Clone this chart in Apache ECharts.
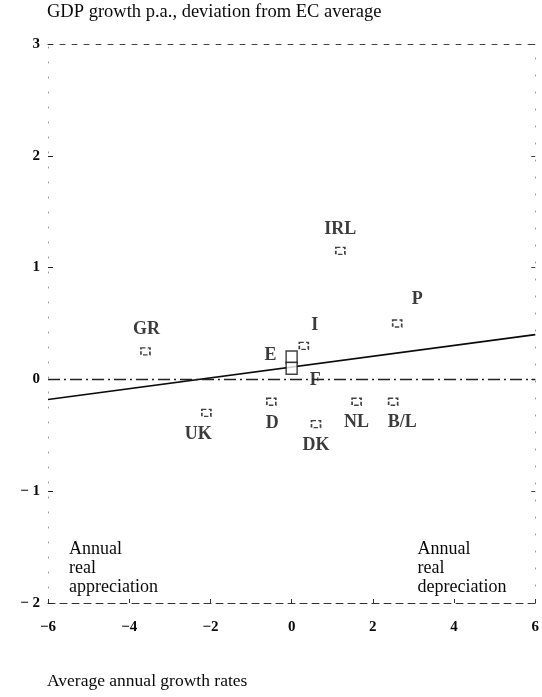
<!DOCTYPE html>
<html>
<head>
<meta charset="utf-8">
<script src="https://cdn.jsdelivr.net/npm/echarts@6/dist/echarts.min.js"></script>
<style>
  html, body { margin: 0; padding: 0; background: #fff; }
  #chart { width: 542px; height: 697px; }
</style>
</head>
<body>
<div id="chart"></div>
<script>
// Member states: real exchange rate change (x) vs GDP growth deviation from EC average (y)
const countries = ['GR', 'IRL', 'P', 'I', 'E', 'F', 'D', 'UK', 'DK', 'NL', 'B/L'];
const realRate  = [-3.6, 1.2, 2.6, 0.3, 0.0, 0.0, -0.5, -2.1, 0.6, 1.6, 2.5];
const gdpDev    = [0.25, 1.15, 0.5, 0.3, 0.2, 0.1, -0.2, -0.3, -0.4, -0.2, -0.2];

// Fitted regression line end points
const fitX = [-6, 6];
const fitY = [-0.18, 0.4];

// Axis ranges and tick steps
const xRange = [-6, 6];
const xStep = 2;
const yRange = [-2, 3];
const yStep = 1;

const titleText = 'GDP growth p.a., deviation from EC average';
const xAxisText = 'Average annual growth rates';
const leftNote = 'Annual\nreal\nappreciation';
const rightNote = 'Annual\nreal\ndepreciation';

// Label placement per country
const labelPlace = {
  'GR':  { position: 'top', distance: 9, offset: [1, 0] },
  'IRL': { position: 'top', distance: 8, offset: [0, 0] },
  'P':   { position: 'top', distance: 7, offset: [20, -4] },
  'I':   { position: 'top', distance: 7, offset: [11, 0] },
  'E':   { position: 'left', distance: 9, offset: [0, -2] },
  'F':   { position: 'right', distance: 4, offset: [4, 12] },
  'D':   { position: 'bottom', distance: 8, offset: [1, 0] },
  'UK':  { position: 'bottom', distance: 8, offset: [-8, 0] },
  'DK':  { position: 'bottom', distance: 8, offset: [0, 0] },
  'NL':  { position: 'bottom', distance: 7, offset: [0, 0] },
  'B/L': { position: 'bottom', distance: 7, offset: [9, 0] }
};

const serif = '"Liberation Serif", "DejaVu Serif", serif';
const ink = '#0a0a0a';
const minusFmt = v => (v < 0 ? '\u2212' + Math.abs(v) : String(v));

const pointData = countries.map((c, i) => {
  const big = (c === 'E' || c === 'F');
  const lp = labelPlace[c];
  return {
    name: c,
    value: [realRate[i], gdpDev[i]],
    symbolSize: big ? [11, 12] : [9, 7],
    itemStyle: big ? { borderType: 'solid' } : undefined,
    label: {
      show: true,
      formatter: c,
      position: lp.position,
      distance: lp.distance,
      offset: lp.offset,
      fontFamily: serif,
      fontWeight: 'bold',
      fontSize: 18,
      color: ink,
      backgroundColor: c === 'F' ? '#fff' : 'transparent',
      padding: c === 'F' ? [0, 4] : 0
    }
  };
});

const chart = echarts.init(document.getElementById('chart'), null, { renderer: 'canvas' });

const option = {
  animation: false,
  backgroundColor: '#fff',
  grid: { left: 48, right: 2, top: 44, bottom: 94 },
  xAxis: [
    {
      type: 'value', position: 'bottom',
      min: xRange[0], max: xRange[1], interval: xStep,
      axisLine: { show: true, onZero: false, lineStyle: { color: '#333', width: 1, type: [7, 5] } },
      axisTick: { show: true, inside: true, length: 4, lineStyle: { color: '#333' } },
      axisLabel: {
        margin: 17, fontFamily: serif, fontWeight: 'bold', fontSize: 15, color: ink,
        formatter: minusFmt
      },
      splitLine: { show: false }
    },
    {
      type: 'value', position: 'top',
      min: xRange[0], max: xRange[1], interval: xStep,
      axisLine: { show: true, onZero: false, lineStyle: { color: '#444', width: 1, type: [5, 7] } },
      axisTick: { show: false },
      axisLabel: { show: false },
      splitLine: { show: false }
    }
  ],
  yAxis: [
    {
      type: 'value', position: 'left',
      min: yRange[0], max: yRange[1], interval: yStep,
      axisLine: { show: true, onZero: false, lineStyle: { color: '#999', width: 1, type: [1, 14] } },
      axisTick: { show: true, inside: true, length: 5, lineStyle: { color: '#222' } },
      axisLabel: {
        margin: 8, fontFamily: serif, fontWeight: 'bold', fontSize: 15, color: ink,
        formatter: v => (v < 0 ? '\u2212 ' + Math.abs(v) : String(v))
      },
      splitLine: { show: false }
    },
    {
      type: 'value', position: 'right',
      min: yRange[0], max: yRange[1], interval: yStep,
      axisLine: { show: true, onZero: false, lineStyle: { color: '#999', width: 1, type: [1, 16] } },
      axisTick: { show: true, inside: true, length: 4, lineStyle: { color: '#444' } },
      axisLabel: { show: false },
      splitLine: { show: false }
    }
  ],
  series: [
    {
      name: 'fit',
      type: 'line',
      data: fitX.map((x, i) => [x, fitY[i]]),
      symbol: 'none',
      lineStyle: { color: ink, width: 1.7 },
      z: 2,
      markLine: {
        silent: true,
        symbol: 'none',
        label: { show: false },
        lineStyle: { color: '#222', width: 1.3, type: [12, 4, 2, 4] },
        data: [{ yAxis: 0 }]
      }
    },
    {
      name: 'countries',
      type: 'scatter',
      symbol: 'rect',
      data: pointData,
      itemStyle: { color: '#fff', borderColor: '#111', borderWidth: 1.5, borderType: [4, 2] },
      z: 4
    }
  ]
};

chart.setOption(option);

// Notes and titles positioned from the grid
const noteTop = chart.convertToPixel({ xAxisIndex: 0, yAxisIndex: 0 }, [-6, -1.43]);
const noteRightX = chart.convertToPixel({ xAxisIndex: 0, yAxisIndex: 0 }, [3.1, 0])[0];
const noteStyle = { fontFamily: serif, fontSize: 18, fill: ink, lineHeight: 19 };
chart.setOption({
  graphic: [
    { type: 'text', left: 47, top: 3, style: Object.assign({ text: titleText }, noteStyle, { fontSize: 18.5 }) },
    { type: 'text', left: 47, bottom: 6, style: Object.assign({ text: xAxisText }, noteStyle, { fontSize: 17.5 }) },
    { type: 'text', x: noteTop[0] + 21, y: noteTop[1], style: Object.assign({ text: leftNote }, noteStyle) },
    { type: 'text', x: noteRightX, y: noteTop[1], style: Object.assign({ text: rightNote }, noteStyle) }
  ]
});
</script>
</body>
</html>
